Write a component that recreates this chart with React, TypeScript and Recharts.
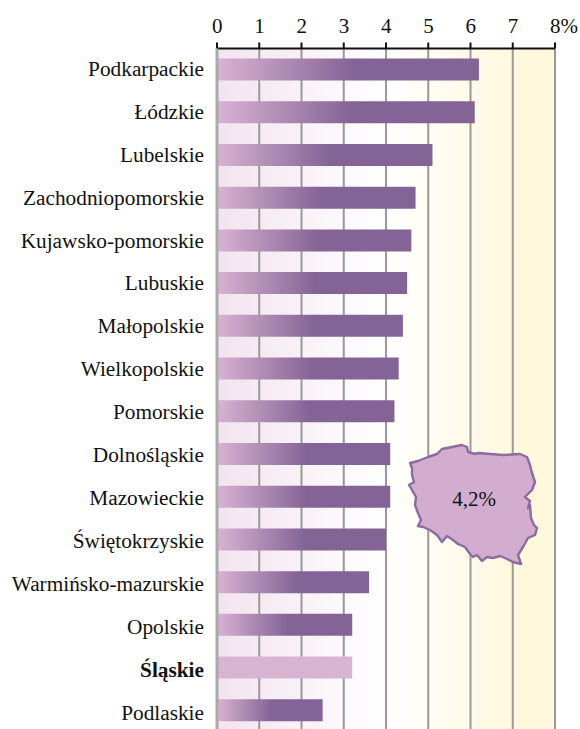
import React from 'react';
import { BarChart, Bar, XAxis, YAxis, CartesianGrid, Cell } from 'recharts';

const regions = [
  'Podkarpackie', 'Łódzkie', 'Lubelskie', 'Zachodniopomorskie', 'Kujawsko-pomorskie', 'Lubuskie',
  'Małopolskie', 'Wielkopolskie', 'Pomorskie', 'Dolnośląskie', 'Mazowieckie', 'Świętokrzyskie',
  'Warmińsko-mazurskie', 'Opolskie', 'Śląskie', 'Podlaskie',
];
const rates = [6.2, 6.1, 5.1, 4.7, 4.6, 4.5, 4.4, 4.3, 4.2, 4.1, 4.1, 4.0, 3.6, 3.2, 3.2, 2.5];
const xTicks = [0, 1, 2, 3, 4, 5, 6, 7, 8];
const highlighted = 'Śląskie';
const nationalLabel = '4,2%';

const data = regions.map((region, i) => ({ region, rate: rates[i] }));

const FONT = '"Liberation Serif", serif';

// outline of the country, decoration only
const mapOutline =
  'M10,33 L18,31 L28,27 L37,24 L42,19 L52,17 L62,15 L67,17 L68,22 L75,24 L78,23 L90,24 L103,25 L120,24 ' +
  'L127,27 L130,35 L132,43 L135,52 L132,60 L125,67 L130,71 L128,78 L130,75 L131,88 L134,95 L137,98 ' +
  'L135,105 L128,108 L123,117 L118,125 L121,134 L113,132 L105,128 L100,126 L93,128 L87,127 L82,131 ' +
  'L77,125 L73,127 L70,124 L65,117 L58,114 L53,110 L47,106 L42,112 L37,105 L30,100 L23,97 L18,96 ' +
  'L21,90 L18,83 L15,75 L16,67 L12,60 L9,55 L14,52 L12,45 L12,38 Z';

const RegionTick = ({ x, y, payload, index }: any) => (
  <text
    x={x}
    y={y}
    dy={6 + index * 0.2}
    textAnchor="end"
    fontFamily={FONT}
    fontSize={21.3}
    fill="#111"
    fontWeight={payload.value === highlighted ? 'bold' : 'normal'}
  >
    {payload.value}
  </text>
);

const ValueTick = ({ x, y, payload }: any) => (
  <text x={x - 5} y={y} dy={-8} textAnchor="start" fontFamily={FONT} fontSize={21} fill="#111">
    {payload.value === 8 ? '8%' : payload.value}
  </text>
);

export default function App() {
  return (
    <div style={{ position: 'absolute', left: 0, top: 0, width: 580, height: 729, overflow: 'hidden', background: '#fff' }}>
      <BarChart
        width={580}
        height={745}
        data={data}
        layout="vertical"
        barCategoryGap={0}
        margin={{ top: 0, right: 25, bottom: 13, left: 0 }}
      >
        <defs>
          <linearGradient id="plotBg" x1="0" y1="0" x2="1" y2="0">
            <stop offset="0%" stopColor="#f2e4ef" />
            <stop offset="50%" stopColor="#ffffff" />
            <stop offset="90%" stopColor="#fff8dc" />
            <stop offset="100%" stopColor="#fff8dc" />
          </linearGradient>
          <linearGradient id="barFill" x1="0" y1="0" x2="1" y2="0">
            <stop offset="0%" stopColor="#d9b3d3" />
            <stop offset="52%" stopColor="#846496" />
            <stop offset="100%" stopColor="#846496" />
          </linearGradient>
        </defs>
        <CartesianGrid horizontal={false} stroke="#999" strokeWidth={2} fill="url(#plotBg)" fillOpacity={1} />
        <XAxis
          type="number"
          orientation="top"
          domain={[0, 8]}
          ticks={xTicks}
          interval={0}
          height={48.5}
          tick={<ValueTick />}
          tickSize={6}
          tickLine={{ stroke: '#111', strokeWidth: 2 }}
          axisLine={{ stroke: '#111', strokeWidth: 2 }}
        />
        <YAxis
          type="category"
          dataKey="region"
          width={217}
          interval={0}
          tick={<RegionTick />}
          tickLine={false}
          tickMargin={13}
          tickSize={0}
          axisLine={{ stroke: '#aaa', strokeWidth: 3 }}
        />
        <Bar dataKey="rate" barSize={22} isAnimationActive={false}>
          {data.map((d) => (
            <Cell key={d.region} fill={d.region === highlighted ? '#d8b4d3' : 'url(#barFill)'} />
          ))}
        </Bar>
      </BarChart>
      <svg width={150} height={150} style={{ position: 'absolute', left: 400, top: 430 }}>
        <path d={mapOutline} fill="#d3add0" stroke="#8d6a9f" strokeWidth={2.4} strokeLinejoin="round" />
        <text x={74} y={76} textAnchor="middle" fontFamily={FONT} fontSize={21} fill="#111">
          {nationalLabel}
        </text>
      </svg>
    </div>
  );
}
